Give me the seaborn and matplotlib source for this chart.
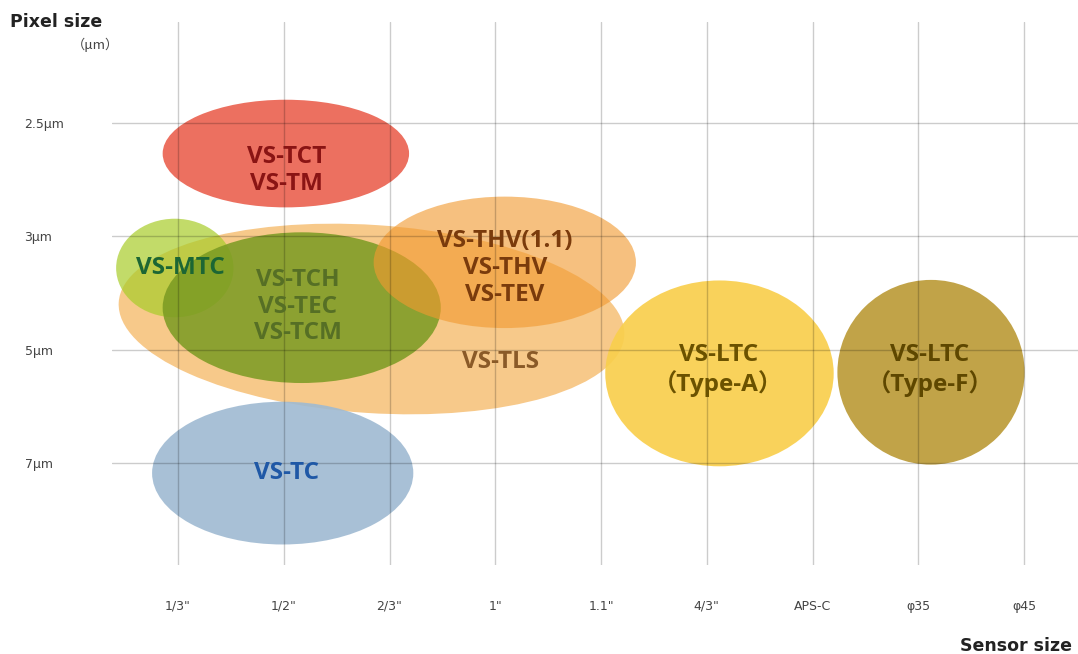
import matplotlib
matplotlib.use('Agg')
import matplotlib.pyplot as plt
from matplotlib.patches import Ellipse
import seaborn as sns
import pandas as pd

# ---- data ----
sensor_sizes = ['1/3"', '1/2"', '2/3"', '1"', '1.1"', '4/3"', 'APS-C', 'φ35', 'φ45']
pixel_sizes = ['2.5μm', '3μm', '5μm', '7μm']

# ellipses (drawing order) : centre on category scales, extent in category units
series_names = ['VS-TLS', 'VS-MTC', 'VS-TCH', 'VS-THV', 'VS-TCT', 'VS-TC', 'VS-LTC-A', 'VS-LTC-F']
center_x = [1.83, -0.03, 1.17, 3.09, 1.02, 0.99, 5.12, 7.12]
center_y = [1.73, 1.28, 1.63, 1.23, 0.27, 3.09, 2.21, 2.20]
span_x = [4.79, 1.11, 2.63, 2.48, 2.33, 2.47, 2.16, 1.77]
span_y = [1.66, 0.87, 1.33, 1.16, 0.95, 1.26, 1.64, 1.63]
tilt = [3.5, 0, 0, 0, 0, 0, 0, 0]
fill_colors = ['#f3a53c', '#a8cd2a', '#7a9a22', '#f29a30', '#e95744', '#9fbad2', '#f9cf4d', '#bc9b38']
fill_alpha = [0.6, 0.7, 0.85, 0.62, 0.85, 0.9, 0.92, 0.92]

label_texts = ['VS-TLS', 'VS-MTC', 'VS-TCH\nVS-TEC\nVS-TCM', 'VS-THV(1.1)\nVS-THV\nVS-TEV',
               'VS-TCT\nVS-TM', 'VS-TC', 'VS-LTC\n（Type-A）', 'VS-LTC\n（Type-F）']
label_x = [3.05, 0.02, 1.13, 3.09, 1.03, 1.03, 5.11, 7.11]
label_y = [2.11, 1.28, 1.62, 1.28, 0.42, 3.09, 2.18, 2.18]
label_colors = ['#8a5a28', '#1c6634', '#566f25', '#7a3b0c', '#8a1414', '#1f58a6', '#6b5200', '#5e4700']

df = pd.DataFrame({'name': series_names, 'x': center_x, 'y': center_y,
                   'w': span_x, 'h': span_y, 'angle': tilt,
                   'color': fill_colors, 'alpha': fill_alpha})

# ---- figure ----
sns.set_theme(style='white')
fam = ['Open Sans', 'Noto Sans CJK JP', 'DejaVu Sans']
plt.rcParams['font.family'] = fam
tick_fam = ['DejaVu Sans', 'Noto Sans CJK JP']

W, H = 1078, 654
fig = plt.figure(figsize=(W / 100, H / 100), dpi=100)
ax = fig.add_axes([112 / W, 1 - 565 / H, 1 - 112 / W, (565 - 22) / H])

ax.set_xlim(-0.624, 8.51)
ax.set_ylim(3.901, -0.891)

for _, r in df.iterrows():
    ax.add_patch(Ellipse((r.x, r.y), r.w, r.h, angle=r.angle,
                         facecolor=r.color, alpha=r.alpha, edgecolor='none', zorder=1))

ax.set_xticks(range(len(sensor_sizes)))
ax.set_xticklabels(sensor_sizes, family=tick_fam)
ax.set_yticks(range(len(pixel_sizes)))
ax.set_yticklabels(pixel_sizes, family=tick_fam)
ax.grid(True, color='#000000', alpha=0.2, linewidth=1.0)
ax.set_axisbelow(False)
for s in ax.spines.values():
    s.set_visible(False)
ax.tick_params(axis='x', length=0, pad=25, labelsize=9, labelcolor='#444444')
ax.tick_params(axis='y', length=0, pad=63, labelsize=9, labelcolor='#444444')
for t in ax.get_yticklabels():
    t.set_horizontalalignment('left')

for txt, x, y, c in zip(label_texts, label_x, label_y, label_colors):
    ax.text(x, y, txt, ha='center', va='center', color=c, fontsize=17.5,
            fontweight='bold', linespacing=1.15, zorder=5, family=fam)

fig.text(10 / W, 1 - 22 / H, 'Pixel size', fontsize=12.5, fontweight='bold',
         color='#222222', ha='left', va='center', family=tick_fam)
fig.text(95 / W, 1 - 45 / H, '（μm）', fontsize=9.5, color='#444444',
         ha='center', va='center', family=['Noto Sans CJK JP', 'DejaVu Sans'])
fig.text(1072 / W, 1 - 646 / H, 'Sensor size', fontsize=12.5, fontweight='bold',
         color='#222222', ha='right', va='center', family=tick_fam)

fig.savefig('out.png', dpi=100)
